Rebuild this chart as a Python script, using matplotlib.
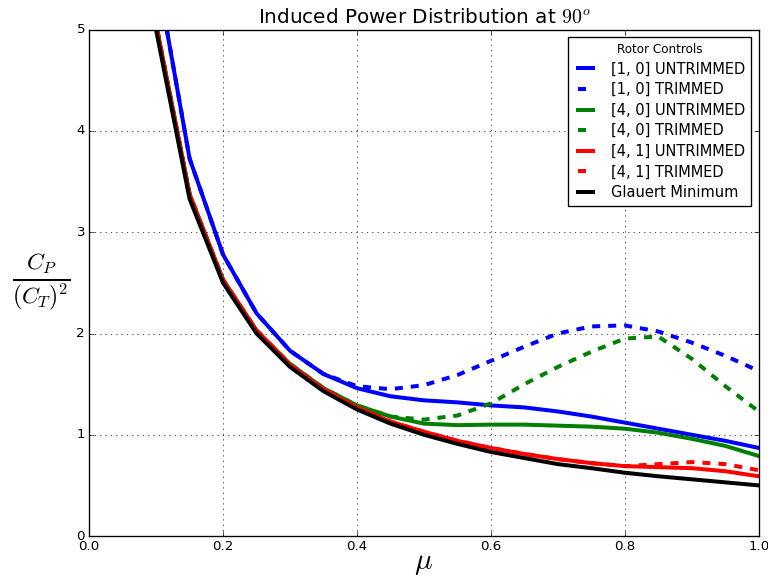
import matplotlib
matplotlib.use("Agg")
import matplotlib.pyplot as plt

plt.style.use('classic')

mu = [0.05, 0.10, 0.15, 0.20, 0.25, 0.30, 0.35, 0.40, 0.45, 0.50,
      0.55, 0.60, 0.65, 0.70, 0.75, 0.80, 0.85, 0.90, 0.95, 1.00]

r10_untrim = [9.0, 5.6, 3.73, 2.78, 2.20, 1.83, 1.60, 1.46, 1.38, 1.34,
              1.32, 1.29, 1.27, 1.23, 1.18, 1.12, 1.06, 1.00, 0.94, 0.87]
r10_trim = [9.0, 5.6, 3.73, 2.78, 2.20, 1.83, 1.60, 1.48, 1.45, 1.49,
            1.59, 1.73, 1.87, 2.00, 2.07, 2.08, 2.02, 1.91, 1.78, 1.63]
r40_untrim = [10.1, 5.06, 3.38, 2.53, 2.03, 1.70, 1.46, 1.29, 1.18, 1.11,
              1.095, 1.10, 1.10, 1.09, 1.08, 1.06, 1.02, 0.96, 0.89, 0.79]
r40_trim = [10.1, 5.06, 3.38, 2.53, 2.03, 1.70, 1.46, 1.29, 1.18, 1.15,
            1.19, 1.31, 1.50, 1.67, 1.82, 1.95, 1.97, 1.75, 1.48, 1.23]
r41_untrim = [10.1, 5.05, 3.37, 2.53, 2.03, 1.69, 1.45, 1.27, 1.13, 1.03,
              0.94, 0.87, 0.81, 0.76, 0.72, 0.69, 0.68, 0.67, 0.64, 0.59]
r41_trim = [10.1, 5.05, 3.37, 2.53, 2.03, 1.69, 1.45, 1.27, 1.13, 1.03,
            0.94, 0.87, 0.81, 0.76, 0.72, 0.69, 0.71, 0.73, 0.71, 0.65]
glauert = [10.0, 5.0, 3.33, 2.50, 2.00, 1.67, 1.43, 1.25, 1.11, 1.00,
           0.91, 0.83, 0.77, 0.71, 0.67, 0.625, 0.59, 0.56, 0.53, 0.50]

fig = plt.figure(figsize=(8, 6), dpi=96, facecolor='white')
ax = fig.add_axes([0.116, 0.0694, 0.872, 0.879])

ax.plot(mu, r10_untrim, 'b-', lw=3, label='[1, 0] UNTRIMMED')
ax.plot(mu, r10_trim, 'b--', lw=3, label='[1, 0] TRIMMED')
ax.plot(mu, r40_untrim, 'g-', lw=3, label='[4, 0] UNTRIMMED')
ax.plot(mu, r40_trim, 'g--', lw=3, label='[4, 0] TRIMMED')
ax.plot(mu, r41_untrim, 'r-', lw=3, label='[4, 1] UNTRIMMED')
ax.plot(mu, r41_trim, 'r--', lw=3, label='[4, 1] TRIMMED')
ax.plot(mu, glauert, 'k-', lw=3, label='Glauert Minimum')

ax.set_xlim(0, 1)
ax.set_ylim(0, 5)
ax.grid(True)
ax.tick_params(labelsize=10, pad=3)
ax.set_title(r'Induced Power Distribution at $90^o$', fontsize=15)
ax.set_xlabel(r'$\mu$', fontsize=22, va='center')
ax.xaxis.set_label_coords(0.5, -0.053)
ax.set_ylabel(r'$\frac{C_P}{(C_T)^2}$', fontsize=25, rotation=0)
ax.yaxis.set_label_coords(-0.072, 0.44)
leg = ax.legend(loc='upper right', title='Rotor Controls', fontsize=11,
                labelspacing=0.38, handlelength=1.6, handletextpad=0.95)
leg.get_title().set_fontsize(9)

fig.savefig('out.png', dpi=96, facecolor='white')
